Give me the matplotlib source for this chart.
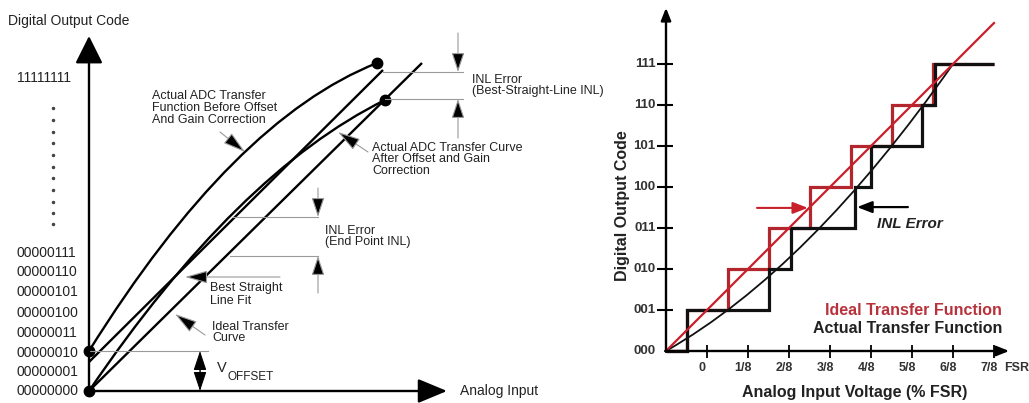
import numpy as np
import matplotlib.pyplot as plt
from matplotlib.path import Path
from matplotlib.patches import PathPatch

plt.rcParams['font.family'] = ['Liberation Sans', 'DejaVu Sans']

# ---------------- left diagram (units: px from origin, y up) ----------------
code_labels = ['11111111', '00000111', '00000110', '00000101', '00000100',
               '00000011', '00000010', '00000001', '00000000']
code_label_y = [313, 138, 119, 99, 78, 58, 38, 19, 0]
gap_dots_y = [283, 271, 259, 248, 236, 224, 213, 201, 189, 178, 167]

ideal_x = [0, 333]
ideal_y = [0, 328]
bestfit_x = [0, 294]
bestfit_y = [29, 321]
# quadratic curves: start, control, end
before_curve = [(0, 40), (144, 271), (288, 328)]
after_curve = [(0, 0), (148, 218), (296, 291)]
end_dots_x = [0, 0, 288, 296]
end_dots_y = [0, 40, 328, 291]

# ---------------- right diagram (x in 1/8 FSR, y in codes) ----------------
codes = [0, 1, 2, 3, 4, 5, 6, 7]
code_names = ['000', '001', '010', '011', '100', '101', '110', '111']
ideal_edges = [-1, -0.5, 0.5, 1.5, 2.5, 3.5, 4.5, 5.5, 7.0]
actual_edges = [-1, -0.5, 1.5, 2.05, 3.6, 4.0, 5.24, 5.55, 7.0]
ideal_line_x = [-1, 7]
ideal_line_y = [0, 8]
actual_curve = [(-1, 0), (2.5, 2.0), (6, 7)]
fsr_ticks = [0, 1, 2, 3, 4, 5, 6, 7]
fsr_labels = ['0', '1/8', '2/8', '3/8', '4/8', '5/8', '6/8', '7/8']

W, H = 1029, 403
fig = plt.figure(figsize=(W / 100, H / 100), dpi=100)

TXT = '#222222'
GRAY = '#9a9a9a'
RED = '#b3262e'


def quad(ax, pts, **kw):
    p = Path(pts, [Path.MOVETO, Path.CURVE3, Path.CURVE3])
    ax.add_patch(PathPatch(p, fill=False, **kw))


def arrow(ax, tip, tail, hl, hw, lw=0.8, ec='k', fc='k', ms=10):
    ax.annotate('', xy=tip, xytext=tail,
                arrowprops=dict(arrowstyle='-|>,head_length=%g,head_width=%g' % (hl, hw),
                                mutation_scale=ms, lw=lw, ec=ec, fc=fc,
                                shrinkA=0, shrinkB=0))


axL = fig.add_axes([0, 0, 1, 1])
axL.set_xlim(-89, W - 89)
axL.set_ylim(-(H - 391), 391)
axL.axis('off')

# axes
arrow(axL, (0, 355), (0, -2), 1.7, 0.85, lw=1.7)
arrow(axL, (358, 0), (-2, 0), 1.8, 0.75, lw=1.7)
axL.text(-81, 370, 'Digital Output Code', fontsize=10, color=TXT, va='center', ha='left')
axL.text(371, 0, 'Analog Input', fontsize=10, color=TXT, va='center', ha='left')

for lab, yy in zip(code_labels, code_label_y):
    axL.text(-72, yy, lab, fontsize=10, color=TXT, va='center', ha='left')
axL.plot([-36] * len(gap_dots_y), gap_dots_y, 'o', ms=1.5, color='#444')

# curves
axL.plot(ideal_x, ideal_y, color='k', lw=1.7, solid_capstyle='butt')
axL.plot(bestfit_x, bestfit_y, color='k', lw=1.7, solid_capstyle='butt')
quad(axL, before_curve, color='k', lw=1.7)
quad(axL, after_curve, color='k', lw=1.7)
axL.plot(end_dots_x, end_dots_y, 'o', ms=7.5, color='k')

# V offset
axL.plot([0, 119], [40, 40], color=GRAY, lw=0.8)
axL.plot([111, 111], [18, 22], color=GRAY, lw=0.8)
arrow(axL, (111, 40), (111, 20), 1.2, 0.4, lw=0.8)
arrow(axL, (111, 0), (111, 20), 1.2, 0.4, lw=0.8)
axL.text(128, 23, 'V', fontsize=10.5, color=TXT, va='center', ha='left')
axL.text(139, 14, 'OFFSET', fontsize=8.5, color=TXT, va='center', ha='left')

# INL end point
axL.plot([144, 229], [174, 174], color=GRAY, lw=0.8)
axL.plot([141, 229], [135, 135], color=GRAY, lw=0.8)
arrow(axL, (229, 174), (229, 203), 1.2, 0.4, lw=0.8, ec=GRAY)
arrow(axL, (229, 135), (229, 98), 1.2, 0.4, lw=0.8, ec=GRAY)
axL.text(236, 154.5, 'INL Error\n(End Point INL)', fontsize=9, color=TXT,
         va='center', ha='left', linespacing=0.95)

# INL best straight line
axL.plot([294, 374], [319, 319], color=GRAY, lw=0.8)
axL.plot([296, 374], [292, 292], color=GRAY, lw=0.8)
arrow(axL, (369, 319), (369, 358), 1.2, 0.4, lw=0.8, ec=GRAY)
arrow(axL, (369, 292), (369, 253), 1.2, 0.4, lw=0.8, ec=GRAY)
axL.text(383, 305.5, 'INL Error\n(Best-Straight-Line INL)', fontsize=9, color=TXT,
         va='center', ha='left', linespacing=0.95)

# label leaders
arrow(axL, (156, 239), (131, 259), 1.4, 0.4, lw=0.8, ec=GRAY)
axL.text(63, 283, 'Actual ADC Transfer\nFunction Before Offset\nAnd Gain Correction',
         fontsize=9, color=TXT, va='center', ha='left', linespacing=0.95)
arrow(axL, (249, 259), (279, 239), 1.4, 0.4, lw=0.8, ec=GRAY)
axL.text(283, 231.5, 'Actual ADC Transfer Curve\nAfter Offset and Gain\nCorrection',
         fontsize=9, color=TXT, va='center', ha='left', linespacing=0.95)
arrow(axL, (96, 114), (191, 114), 1.4, 0.4, lw=0.8, ec=GRAY)
axL.text(121, 96.5, 'Best Straight\nLine Fit', fontsize=9, color=TXT,
         va='center', ha='left', linespacing=1.1)
arrow(axL, (86, 77), (116, 56), 1.4, 0.4, lw=0.8, ec=GRAY)
axL.text(123, 58.5, 'Ideal Transfer\nCurve', fontsize=9, color=TXT,
         va='center', ha='left', linespacing=0.95)

# ---------------- right axes ----------------
ox, sx, oy, sy = 707, 41, 351, 41   # px of x=0 / code 0 and px per unit
xl, yl = (-1.5, 7.8), (-0.5, 8.5)
left = ox + sx * xl[0]
right = ox + sx * xl[1]
bottom = oy - sy * yl[0]
top = oy - sy * yl[1]
axR = fig.add_axes([left / W, (H - bottom) / H, (right - left) / W, (bottom - top) / H])
axR.set_xlim(*xl)
axR.set_ylim(*yl)
axR.axis('off')
axR.patch.set_alpha(0)

arrow(axR, (7.37, 0), (-1.02, 0), 0.75, 0.3, lw=1.7)
arrow(axR, (-1, 8.37), (-1, -0.02), 0.75, 0.3, lw=1.7)
axR.hlines(codes[1:], -1.22, -0.83, color='k', lw=1.5)
axR.vlines(fsr_ticks, -0.17, 0.15, color='k', lw=1.3)
for c, n in zip(codes, code_names):
    axR.text(-1.25, c, n, fontsize=9.5, fontweight='bold', color='#333', ha='right', va='center')
for v, n in zip(fsr_ticks, fsr_labels):
    axR.text(v - 0.12, -0.41, n, fontsize=9, fontweight='bold', color='#333', ha='center', va='center')
axR.text(7.56, -0.41, 'FSR', fontsize=9, fontweight='bold', color='#333', ha='center', va='center')

axR.stairs(codes, ideal_edges, baseline=None, color=RED, lw=2.3, joinstyle='miter')
axR.stairs(codes, actual_edges, baseline=None, color='#111', lw=2.3, joinstyle='miter')
quad(axR, actual_curve, color='#111', lw=1.3)
axR.plot(ideal_line_x, ideal_line_y, color='#c8202a', lw=1.6)

arrow(axR, (2.46, 3.49), (1.22, 3.49), 0.9, 0.35, lw=1.5, ec='#c8202a', fc='#c8202a')
arrow(axR, (3.66, 3.51), (4.9, 3.51), 0.9, 0.35, lw=1.6)
axR.text(4.15, 3.1, 'INL Error', fontsize=11, fontweight='bold', fontstyle='italic',
         color='#222', ha='left', va='center')

axR.text(7.2, 0.99, 'Ideal Transfer Function', fontsize=11.5, fontweight='bold',
         color='#b8323c', ha='right', va='center')
axR.text(7.2, 0.54, 'Actual Transfer Function', fontsize=11.5, fontweight='bold',
         color='#222', ha='right', va='center')
axR.text(3.6, -1.02, 'Analog Input Voltage (% FSR)', fontsize=11.5, fontweight='bold',
         color='#222', ha='center', va='center')
axR.text(-2.07, 3.54, 'Digital Output Code', fontsize=11.5, fontweight='bold',
         color='#222', ha='center', va='center', rotation=90)

fig.savefig('out.png', dpi=100)
